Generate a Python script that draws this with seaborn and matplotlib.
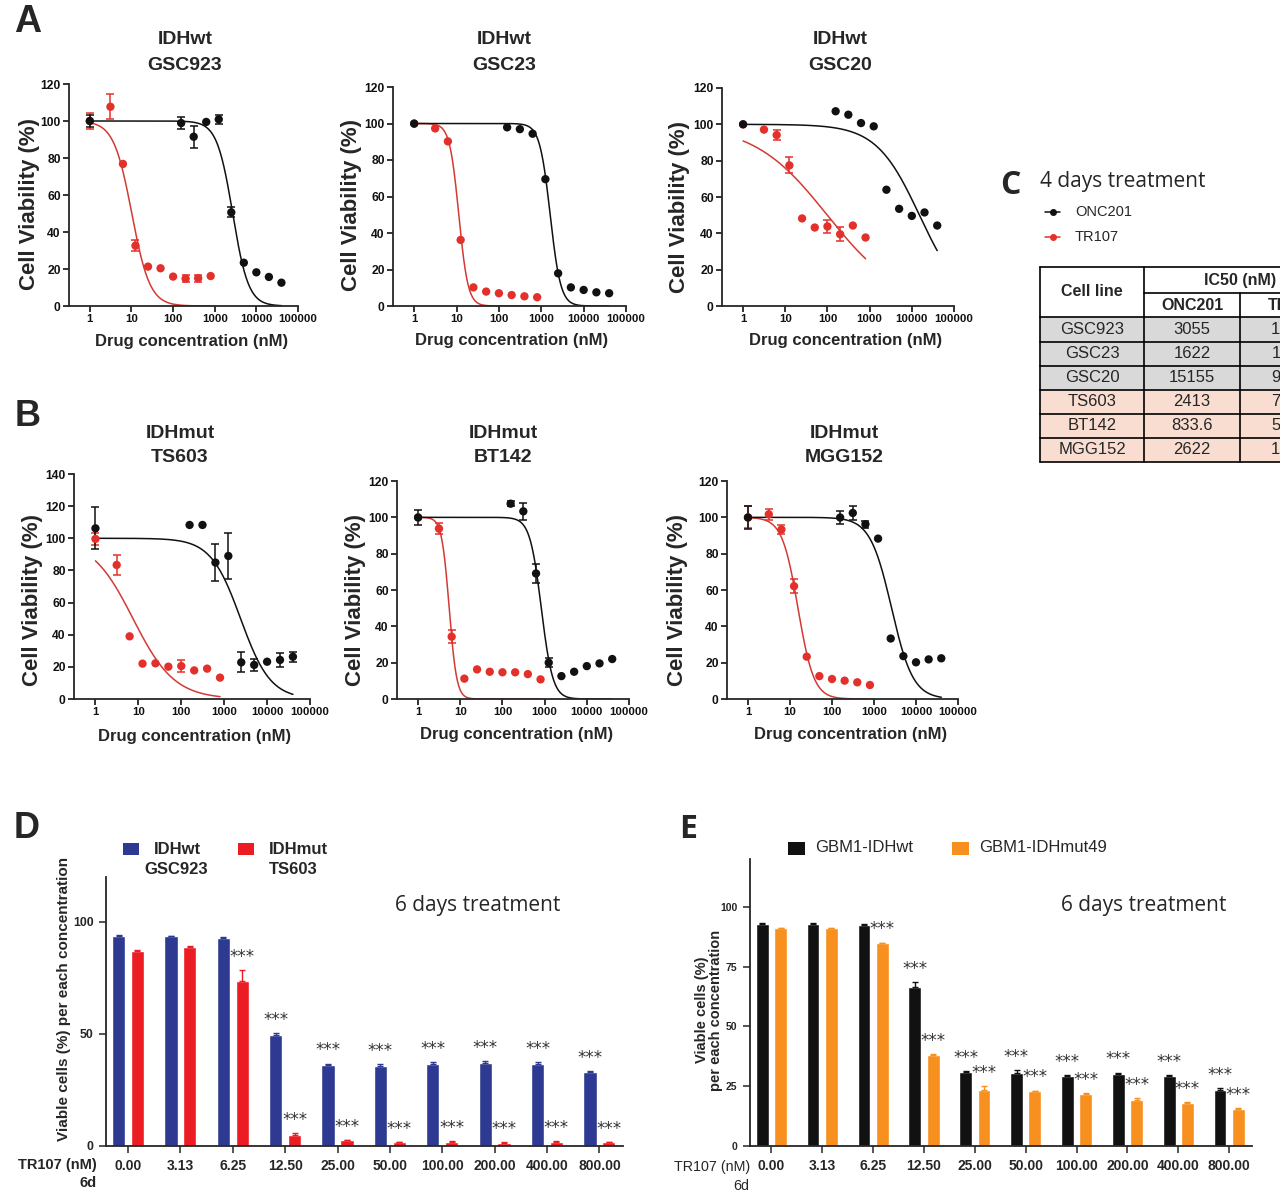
import numpy as np
import pandas as pd
import seaborn as sns
import matplotlib
matplotlib.use('Agg')
import matplotlib.pyplot as plt
from matplotlib.patches import Rectangle
from matplotlib.lines import Line2D

#####################################################
## Data
conc_onc = [1, 156.25, 312.5, 625, 1250, 2500, 5000, 10000, 20000, 40000]
conc_tr = [1, 3.125, 6.25, 12.5, 25, 50, 100, 200, 400, 800]

gsc923_onc = [100.0, 98.9, 91.5, 99.5, 100.9, 50.6, 23.4, 18.2, 15.7, 12.6]
gsc923_onc_err = [3.3, 3.0, 6.0, 0, 2.4, 2.7, 0, 0, 0, 0]
gsc923_tr = [100.0, 107.7, 76.8, 32.6, 21.3, 20.4, 15.9, 14.8, 15.0, 16.2]
gsc923_tr_err = [4.5, 6.8, 0, 3.0, 0, 0, 0, 2.0, 2.0, 0]

gsc23_onc = [99.9, 97.9, 96.9, 94.4, 69.5, 17.9, 10.2, 8.8, 7.5, 7.0]
gsc23_onc_err = [0, 0, 0, 0, 0, 0, 0, 0, 0, 0]
gsc23_tr = [100.0, 97.3, 90.2, 36.2, 10.2, 7.9, 7.0, 6.0, 5.3, 4.8]
gsc23_tr_err = [0, 0, 0, 0, 0, 0, 0, 0, 0, 0]

gsc20_onc = [100.0, 107.2, 105.3, 100.7, 98.9, 64.0, 53.5, 49.6, 51.5, 44.3]
gsc20_onc_err = [0, 0, 0, 0, 0, 0, 0, 0, 0, 0]
gsc20_tr = [100.0, 97.1, 94.1, 77.4, 48.2, 43.2, 43.8, 39.5, 44.3, 37.7]
gsc20_tr_err = [0, 0, 2.8, 4.4, 0, 0, 3.7, 3.9, 0, 0]

ts603_onc = [106.2, 108.3, 108.3, 84.9, 89.0, 22.8, 21.2, 23.2, 24.3, 26.3]
ts603_onc_err = [13.0, 0, 0, 11.7, 14.5, 6.2, 4.0, 0, 4.5, 3.0]
ts603_tr = [99.6, 83.4, 39.0, 22.0, 22.2, 20.1, 20.5, 17.8, 18.9, 13.3]
ts603_tr_err = [4.0, 6.2, 0, 0, 0, 0, 3.6, 0, 0, 0]

bt142_onc = [99.9, 107.5, 103.3, 69.1, 20.0, 12.6, 15.0, 18.1, 19.6, 22.0]
bt142_onc_err = [3.9, 1.5, 4.6, 5.1, 2.5, 0, 0, 0, 0, 0]
bt142_tr = [100.0, 93.8, 34.3, 11.2, 16.3, 15.0, 14.7, 14.7, 13.7, 10.8]
bt142_tr_err = [0, 3.2, 3.5, 0, 0, 0, 0, 0, 0, 0]

mgg152_onc = [99.9, 99.9, 102.4, 96.2, 88.3, 33.3, 23.6, 20.2, 21.8, 22.4]
mgg152_onc_err = [6.2, 3.7, 4.0, 2.0, 0, 0, 0, 0, 0, 0]
mgg152_tr = [100.0, 101.7, 93.3, 62.1, 23.3, 12.6, 11.0, 10.1, 9.2, 7.7]
mgg152_tr_err = [6.0, 3.0, 2.6, 3.7, 0, 0, 0, 0, 0, 0]

# fitted curve parameters (IC50 nM, Hill slope) as seen in the curves
onc_fit = {'GSC923': (2700, 2.3), 'GSC23': (1622, 3.5), 'GSC20': (15155, 0.85),
           'TS603': (2413, 1.25), 'BT142': (833.6, 3.2), 'MGG152': (2622, 1.7)}
tr_fit = {'GSC923': (10.2, 2.0), 'GSC23': (11.3, 4.0), 'GSC20': (99, 0.5),
          'TS603': (7.5, 0.9), 'BT142': (5.46, 4.9), 'MGG152': (15.5, 2.3)}

# IC50 table (panel C)
table_lines = ['GSC923', 'GSC23', 'GSC20', 'TS603', 'BT142', 'MGG152']
table_onc = ['3055', '1622', '15155', '2413', '833.6', '2622']
table_tr = ['12.47', '11.38', '99.16', '7.519', '5.462', '15.47']
table_group = ['wt', 'wt', 'wt', 'mut', 'mut', 'mut']

# panel D / E bar charts
bar_conc = ['0.00', '3.13', '6.25', '12.50', '25.00', '50.00', '100.00', '200.00', '400.00', '800.00']
d_wt = [93.8, 93.6, 93.0, 49.6, 36.0, 35.7, 36.7, 37.0, 36.7, 32.9]
d_wt_err = [0.3, 0.3, 0.3, 0.9, 0.8, 0.9, 0.6, 1.0, 0.8, 0.7]
d_mut = [87.1, 88.6, 73.5, 4.9, 2.5, 1.6, 1.9, 1.5, 1.8, 1.6]
d_mut_err = [0.3, 0.7, 5.0, 0.7, 0.3, 0.3, 0.4, 0.3, 0.4, 0.3]
d_wt_sig = ['', '', '', '***', '***', '***', '***', '***', '***', '***']
d_mut_sig = ['', '', '***', '***', '***', '***', '***', '***', '***', '***']

e_wt = [92.8, 92.8, 92.5, 66.4, 31.0, 30.7, 29.2, 29.9, 29.2, 23.6]
e_wt_err = [0.3, 0.3, 0.3, 2.1, 0.4, 1.0, 0.3, 0.8, 0.5, 0.6]
e_mut = [91.1, 91.1, 84.7, 37.9, 23.3, 22.9, 21.9, 19.4, 17.8, 15.4]
e_mut_err = [0.2, 0.2, 0.3, 0.5, 1.7, 0.3, 0.3, 0.5, 0.5, 0.5]
e_wt_sig = ['', '', '', '***', '***', '***', '***', '***', '***', '***']
e_mut_sig = ['', '', '***', '***', '***', '***', '***', '***', '***', '***']
#####################################################


#####################################################
## Style
sns.set_style('ticks')
plt.rcParams['font.family'] = ['Liberation Sans', 'DejaVu Sans']
plt.rcParams['axes.linewidth'] = 1.3

BLACK = '#111111'
RED = '#e3302b'
RED_LINE = '#d33a33'
NAVY = '#2e3a92'
BRIGHT_RED = '#ec1c24'
ORANGE = '#f7901e'
GREY_ROW = '#d9d9d9'
PINK_ROW = '#f9ddd1'

W, H = 1280, 1199
fig = plt.figure(figsize=(W / 100, H / 100), dpi=100)


def fx(x):
    return x / W


def fy(y):
    return 1 - y / H


def add_ax(l, t, r, b):
    return fig.add_axes([l / W, 1 - b / H, (r - l) / W, (b - t) / H])


def ptext(x, y, s, **kw):
    fig.text(fx(x), fy(y), s, **kw)
#####################################################


#####################################################
## Dose-response panels (A, B)
def hill(x, ic50, slope):
    return 100.0 / (1.0 + (x / ic50) ** slope)


def dose_panel(ax, onc, onc_err, tr, tr_err, fit_onc, fit_tr, ymax):
    xs_onc = np.geomspace(conc_onc[0], conc_onc[-1], 300)
    xs_tr = np.geomspace(conc_tr[0], conc_tr[-1], 300)
    sns.lineplot(x=xs_tr, y=hill(xs_tr, *fit_tr), color=RED_LINE, lw=1.1, ax=ax)
    sns.lineplot(x=xs_onc, y=hill(xs_onc, *fit_onc), color=BLACK, lw=1.1, ax=ax)

    for conc, vals, errs, col in [(conc_tr, tr, tr_err, RED), (conc_onc, onc, onc_err, BLACK)]:
        c = np.array(conc)
        v = np.array(vals)
        e = np.array(errs)
        m = e > 0
        ax.errorbar(c[m], v[m], yerr=e[m], fmt='none', ecolor=col,
                    elinewidth=1.1, capsize=3.2, capthick=1.1, zorder=3)
        sns.scatterplot(x=c, y=v, color=col, s=36, edgecolor='none', ax=ax, zorder=4)

    ax.set_xscale('log')
    ax.set_xlim(10 ** -0.5, 1e5)
    ax.set_ylim(0, ymax)
    ax.set_xticks([1, 10, 100, 1000, 10000, 100000])
    ax.set_xticklabels(['1', '10', '100', '1000', '10000', '100000'],
                       fontsize=8.2, fontweight='bold')
    ax.xaxis.set_minor_locator(matplotlib.ticker.NullLocator())
    ax.set_yticks(range(0, ymax + 1, 20))
    ax.set_yticklabels([str(v) for v in range(0, ymax + 1, 20)], fontsize=8.7, fontweight='bold')
    ax.tick_params(axis='both', direction='out', length=4, width=1.2, pad=2, colors=BLACK)
    ax.set_xlabel('')
    ax.set_ylabel('')
    sns.despine(ax=ax)


panels = [
    # name, group, axes box (l, t, r, b), ymax, title xy, ylabel xy, xlabel xy
    ('GSC923', 'IDHwt', (69, 84, 298, 306), 120, (185, 40), (30, 204), (192, 341),
     gsc923_onc, gsc923_onc_err, gsc923_tr, gsc923_tr_err),
    ('GSC23', 'IDHwt', (393, 87, 626, 306), 120, (504, 40), (352, 205), (512, 340),
     gsc23_onc, gsc23_onc_err, gsc23_tr, gsc23_tr_err),
    ('GSC20', 'IDHwt', (722, 88, 954, 306), 120, (840, 40), (680, 207), (846, 340),
     gsc20_onc, gsc20_onc_err, gsc20_tr, gsc20_tr_err),
    ('TS603', 'IDHmut', (74, 474, 310, 699), 140, (180, 433), (33, 600), (195, 736),
     ts603_onc, ts603_onc_err, ts603_tr, ts603_tr_err),
    ('BT142', 'IDHmut', (397, 481, 629, 699), 120, (503, 433), (355, 600), (517, 735),
     bt142_onc, bt142_onc_err, bt142_tr, bt142_tr_err),
    ('MGG152', 'IDHmut', (727, 481, 958, 699), 120, (844, 433), (677, 600), (851, 735),
     mgg152_onc, mgg152_onc_err, mgg152_tr, mgg152_tr_err),
]

for (name, grp, box, ymax, txy, yl, xl, onc, onc_e, tr, tr_e) in panels:
    ax = add_ax(*box)
    dose_panel(ax, onc, onc_e, tr, tr_e, onc_fit[name], tr_fit[name], ymax)
    ptext(txy[0], txy[1], grp, ha='center', va='center', fontsize=14, fontweight='bold')
    ptext(txy[0], txy[1] + 25, name, ha='center', va='center', fontsize=14, fontweight='bold')
    ptext(yl[0], yl[1], 'Cell Viability (%)', rotation=90, ha='center', va='center',
          fontsize=16, fontweight='bold')
    ptext(xl[0], xl[1], 'Drug concentration (nM)', ha='center', va='center',
          fontsize=12, fontweight='bold')
#####################################################


#####################################################
## Panel C: legend + IC50 table
ptext(1040, 181, '4 days treatment', ha='left', va='center', fontsize=15, family='Open Sans')
for yy, col, lab in [(212, BLACK, 'ONC201'), (237, RED, 'TR107')]:
    fig.lines.append(Line2D([fx(1045), fx(1060)], [fy(yy), fy(yy)], color=col, lw=1.1,
                            transform=fig.transFigure))
    fig.lines.append(Line2D([fx(1052.5)], [fy(yy)], color=col, marker='o', markersize=4,
                            transform=fig.transFigure))
    ptext(1075, yy, lab, ha='left', va='center', fontsize=10.5)

tl, c1, c2, tr_ = 1040, 1144, 1240, 1344
row_edges = [267, 293, 317, 341.5, 366, 390, 414, 438, 462]
tax = add_ax(tl - 2, 260, tr_, 470)
tax.set_xlim(tl - 2, tr_)
tax.set_ylim(470, 260)
tax.axis('off')
for i, g in enumerate(table_group):
    y0, y1 = row_edges[i + 2], row_edges[i + 3]
    tax.add_patch(Rectangle((tl, y0), tr_ - tl, y1 - y0,
                            facecolor=GREY_ROW if g == 'wt' else PINK_ROW, edgecolor='none'))
    yc = (y0 + y1) / 2
    tax.text((tl + c1) / 2, yc, table_lines[i], ha='center', va='center', fontsize=12)
    tax.text((c1 + c2) / 2, yc, table_onc[i], ha='center', va='center', fontsize=12)
    tax.text((c2 + tr_) / 2, yc, table_tr[i], ha='center', va='center', fontsize=12)
lw = 1.2
tax.plot([tl, tr_], [row_edges[0], row_edges[0]], color='k', lw=lw)
tax.plot([c1, tr_], [row_edges[1], row_edges[1]], color='k', lw=lw)
for y in row_edges[2:]:
    tax.plot([tl, tr_], [y, y], color='k', lw=lw)
tax.plot([tl, tl], [row_edges[0], row_edges[-1]], color='k', lw=lw)
tax.plot([c1, c1], [row_edges[0], row_edges[-1]], color='k', lw=lw)
tax.plot([c2, c2], [row_edges[1], row_edges[-1]], color='k', lw=lw)
tax.text((tl + c1) / 2, (row_edges[0] + row_edges[2]) / 2, 'Cell line', ha='center',
         va='center', fontsize=11.5, fontweight='bold')
tax.text((c1 + 1336) / 2, (row_edges[0] + row_edges[1]) / 2, 'IC50 (nM)', ha='center',
         va='center', fontsize=11.5, fontweight='bold')
tax.text((c1 + c2) / 2, (row_edges[1] + row_edges[2]) / 2, 'ONC201', ha='center',
         va='center', fontsize=11.5, fontweight='bold')
tax.text((c2 + tr_) / 2, (row_edges[1] + row_edges[2]) / 2, 'TR107', ha='center',
         va='center', fontsize=11.5, fontweight='bold')
#####################################################


#####################################################
## Bar panels (D, E)
def bar_panel(ax, wt, wt_err, mut, mut_err, wt_sig, mut_sig, colors, yticks, ytick_size):
    df = pd.DataFrame({
        'conc': bar_conc * 2,
        'line': ['wt'] * len(bar_conc) + ['mut'] * len(bar_conc),
        'value': wt + mut,
    })
    sns.barplot(data=df, x='conc', y='value', hue='line', order=bar_conc,
                hue_order=['wt', 'mut'], palette=colors, width=0.72, gap=0.3,
                errorbar=None, legend=False, saturation=1, ax=ax)
    for cont, errs, sigs, col in zip(ax.containers, [wt_err, mut_err], [wt_sig, mut_sig], colors):
        xs = [b.get_x() + b.get_width() / 2 for b in cont]
        ys = [b.get_height() for b in cont]
        ax.errorbar(xs, ys, yerr=[np.zeros(len(errs)), errs], fmt='none', ecolor=col,
                    elinewidth=1.0, capsize=2.5, capthick=1.0)
        for x, y, e, s in zip(xs, ys, errs, sigs):
            if s:
                ax.text(x, y + e + 1.8, s, ha='center', va='bottom', fontsize=12,
                        color='#333333', family='DejaVu Sans')
    ax.set_xlim(-0.42, 9.45)
    ax.set_ylim(0, 120)
    ax.set_yticks(yticks)
    ax.set_yticklabels([str(v) for v in yticks], fontsize=ytick_size, fontweight='bold')
    ax.set_xticks(range(len(bar_conc)))
    ax.set_xticklabels(bar_conc, fontsize=10, fontweight='bold')
    ax.tick_params(axis='both', direction='out', length=5, width=1.1, pad=4)
    ax.set_xlabel('')
    ax.set_ylabel('')
    sns.despine(ax=ax)


axd = add_ax(106, 877, 623, 1146)
bar_panel(axd, d_wt, d_wt_err, d_mut, d_mut_err, d_wt_sig, d_mut_sig,
          [NAVY, BRIGHT_RED], [0, 50, 100], 8.8)
axe = add_ax(750, 859, 1252, 1146)
bar_panel(axe, e_wt, e_wt_err, e_mut, e_mut_err, e_wt_sig, e_mut_sig,
          [BLACK, ORANGE], [0, 25, 50, 75, 100], 7.5)

# D texts
ptext(64, 999, 'Viable cells (%) per each concentration', rotation=90, ha='center',
      va='center', fontsize=11, fontweight='bold')
ptext(97, 1165, 'TR107 (nM)', ha='right', va='center', fontsize=10.5, fontweight='bold')
ptext(97, 1183, '6d', ha='right', va='center', fontsize=10.5, fontweight='bold')
ptext(395, 906, '6 days treatment', ha='left', va='center', fontsize=15, family='Open Sans')
for rx, col, l1, l2, cx in [(123, NAVY, 'IDHwt', 'GSC923', 176),
                            (238, BRIGHT_RED, 'IDHmut', 'TS603', 293)]:
    fig.patches.append(Rectangle((fx(rx), fy(855)), 16 / W, 12 / H, facecolor=col,
                                 edgecolor='none', transform=fig.transFigure))
    ptext(rx + 31, 849, l1, ha='left', va='center', fontsize=12, fontweight='bold')
    ptext(cx, 870, l2, ha='center', va='center', fontsize=12, fontweight='bold')

# E texts
ptext(709, 1010, 'Viable cells (%)\nper each concentration', rotation=90, ha='center',
      va='center', fontsize=10.5, fontweight='bold', linespacing=1.0)
ptext(750, 1167, 'TR107 (nM)', ha='right', va='center', fontsize=10.3)
ptext(749, 1186, '6d', ha='right', va='center', fontsize=10.3)
ptext(1061, 906, '6 days treatment', ha='left', va='center', fontsize=15, family='Open Sans')
for rx, col, lab in [(788, BLACK, 'GBM1-IDHwt'), (952, ORANGE, 'GBM1-IDHmut49')]:
    fig.patches.append(Rectangle((fx(rx), fy(855)), 17 / W, 13 / H, facecolor=col,
                                 edgecolor='none', transform=fig.transFigure))
    ptext(rx + 27, 848, lab, ha='left', va='center', fontsize=12)
#####################################################


#####################################################
## Panel letters
ptext(28, 22, 'A', ha='center', va='center', fontsize=27, fontweight='bold')
ptext(28, 416, 'B', ha='center', va='center', fontsize=26, fontweight='bold')
ptext(1010, 186, 'C', ha='center', va='center', fontsize=23, fontweight='bold', family='Open Sans')
ptext(27, 829, 'D', ha='center', va='center', fontsize=26, fontweight='bold')
ptext(688, 829, 'E', ha='center', va='center', fontsize=23, fontweight='bold', family='Open Sans')

fig.savefig('out.png', dpi=100)
